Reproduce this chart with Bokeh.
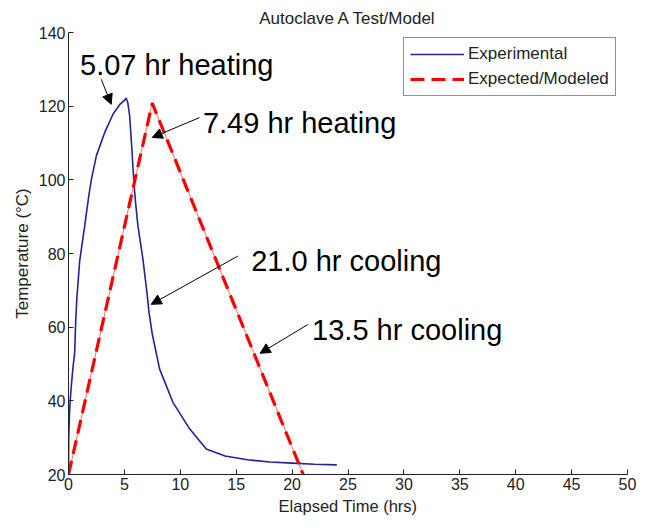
from bokeh.plotting import figure
from bokeh.models import (Arrow, NormalHead, Legend, LegendItem, ColumnDataSource,
                          Range1d, FixedTicker)
from bokeh.core.properties import value
from bokeh.embed import file_html
from bokeh.resources import INLINE

# ---- data ----
exp_t = [0, 0.02, 0.08, 0.15, 0.25, 0.4, 0.55, 0.65, 0.75, 1.0, 1.45, 1.83, 2.04, 2.49,
         3.23, 3.98, 4.6, 5.07, 5.15, 5.3, 5.47, 5.67, 5.85, 6.0, 6.21, 6.66, 7.02, 7.2,
         7.5, 8.15, 9.34, 10.83, 12.32, 14, 16, 18, 20, 22, 24]
exp_T = [20, 30, 36, 40, 44, 49, 53, 62, 68, 78, 87.5, 96, 100, 106.5,
         112.8, 117.8, 120.5, 121.8, 122.2, 121, 117.4, 108.3, 99.2, 93.8, 87.5, 78.4, 69.3, 64,
         58, 48.6, 39.6, 32.4, 26.9, 25, 24, 23.4, 23.1, 22.8, 22.6]

model_t = [0, 7.49, 20.99, 45]
model_T = [20, 120.8, 20, 20]

x_ticks = [0, 5, 10, 15, 20, 25, 30, 35, 40, 45, 50]
y_ticks = [20, 40, 60, 80, 100, 120, 140]

ann_text = ["5.07 hr heating", "7.49 hr heating", "21.0 hr cooling", "13.5 hr cooling"]
ann_x = [1.03, 12.02, 16.34, 21.79]
ann_y = [131.3, 115.5, 78.0, 59.3]

arr_x0 = [2.93, 11.72, 15.15, 21.40]
arr_y0 = [127.3, 116.9, 79.3, 60.7]
arr_x1 = [3.82, 7.49, 7.40, 17.14]
arr_y1 = [120.5, 111.5, 66.2, 52.9]

# ---- figure ----
p = figure(width=645, height=523, x_range=Range1d(0, 50), y_range=Range1d(20, 140),
           output_backend="svg", toolbar_location=None, title="Autoclave A Test/Model",
           min_border_left=68, min_border_right=18, min_border_top=32, min_border_bottom=49)
p.background_fill_color = "white"
p.border_fill_color = "white"
p.outline_line_color = None
p.xgrid.visible = False
p.ygrid.visible = False

p.title.align = "center"
p.title.text_font = "Liberation Sans"
p.title.text_font_style = "normal"
p.title.text_font_size = "17px"
p.title.text_color = "#222222"

for ax in (p.xaxis[0], p.yaxis[0]):
    ax.major_tick_in = 5
    ax.major_tick_out = 0
    ax.minor_tick_line_color = None
    ax.axis_line_color = "#222222"
    ax.major_tick_line_color = "#222222"
    ax.major_label_text_font = "Liberation Sans"
    ax.major_label_text_font_size = "16px"
    ax.major_label_text_color = "#222222"
    ax.axis_label_text_font = "Liberation Sans"
    ax.axis_label_text_font_size = "16.5px"
    ax.axis_label_text_font_style = "normal"
    ax.axis_label_text_color = "#222222"
    ax.major_label_standoff = 3
    ax.axis_label_standoff = 4

p.xaxis.ticker = FixedTicker(ticks=x_ticks)
p.yaxis.ticker = FixedTicker(ticks=y_ticks)
p.xaxis.axis_label = "Elapsed Time (hrs)"
p.yaxis.axis_label = "Temperature (°C)"
p.yaxis.axis_label_text_font_size = "17px"

# thin model line (continues along baseline)
p.line(model_t, model_T, line_color="#e05050", line_width=1, line_alpha=0.8)
# experimental
r_exp = p.line(exp_t, exp_T, line_color="#22229a", line_width=1.6)
# modeled dashed
r_mod = p.line(model_t[:3], model_T[:3], line_color="#ff0000", line_width=3.2,
               line_dash="14 7")

# annotations
p.text(x=ann_x, y=ann_y, text=ann_text, text_font=value("Liberation Sans"),
       text_font_size="29px", text_baseline="alphabetic", text_align="left",
       text_color="black")

asrc = ColumnDataSource(dict(x0=arr_x0, y0=arr_y0, x1=arr_x1, y1=arr_y1))
p.add_layout(Arrow(source=asrc, x_start="x0", y_start="y0", x_end="x1", y_end="y1",
                   line_color="black", line_width=1,
                   end=NormalHead(size=10, fill_color="black", line_color="black")))

legend = Legend(items=[LegendItem(label="Experimental", renderers=[r_exp]),
                       LegendItem(label="Expected/Modeled", renderers=[r_mod])],
                location=(335, 378))
legend.border_line_color = "#222222"
legend.border_line_width = 1
legend.padding = 6
legend.margin = 0
legend.spacing = 5
legend.glyph_width = 54
legend.glyph_height = 20
legend.label_height = 20
legend.label_standoff = 4
legend.label_text_font = "Liberation Sans"
legend.label_text_font_size = "17px"
legend.label_text_color = "#222222"
legend.background_fill_color = "white"
p.add_layout(legend)

open("out.html", "w").write(file_html(p, INLINE))
